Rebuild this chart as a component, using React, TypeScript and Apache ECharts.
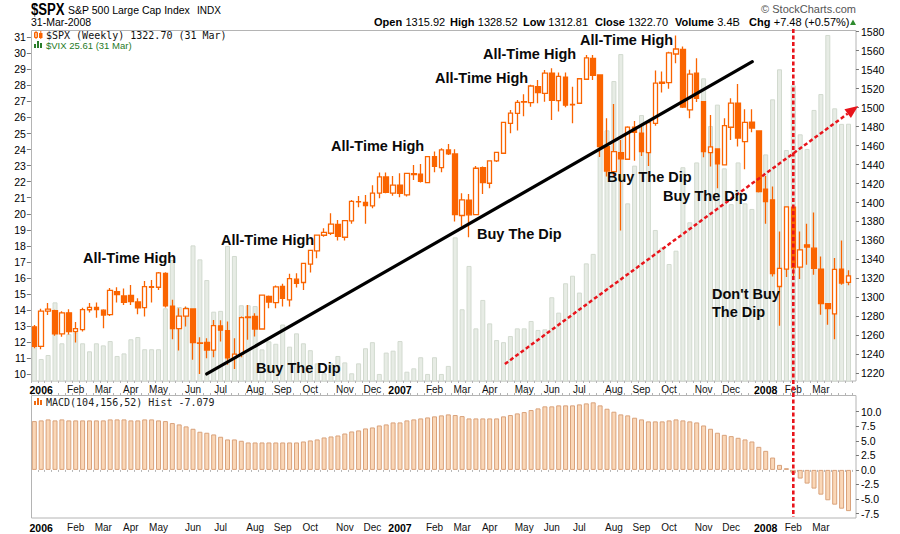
import React, { useEffect, useRef } from 'react';
import * as echarts from 'echarts';

// ---- data (weekly, first bar = week of 26-Dec-2005, last = week of 31-Mar-2008) ----
const spxOpen = [
  1269.0, 1248.3, 1285.5, 1286.0, 1261.5, 1283.7, 1264.0, 1266.0, 1287.0, 1289.4,
  1286.5, 1281.9, 1306.0, 1301.5, 1302.2, 1295.2, 1289.3, 1311.4, 1310.7, 1325.4,
  1290.7, 1267.0, 1280.2, 1287.9, 1252.0, 1252.5, 1244.5, 1270.0, 1265.0, 1236.2,
  1240.3, 1278.6, 1279.9, 1266.7, 1301.0, 1294.6, 1311.5, 1297.4, 1319.2, 1315.7,
  1335.0, 1349.0, 1365.5, 1367.6, 1377.0, 1363.4, 1380.6, 1400.6, 1400.0, 1396.5,
  1409.8, 1427.0, 1409.8, 1418.2, 1408.0, 1429.4, 1429.8, 1421.0, 1448.4, 1436.8,
  1455.4, 1451.2, 1386.3, 1402.4, 1387.3, 1436.8, 1420.3, 1443.8, 1451.9, 1483.5,
  1494.0, 1506.3, 1505.3, 1522.1, 1515.1, 1536.2, 1507.4, 1532.0, 1502.8, 1504.6,
  1529.9, 1552.0, 1534.4, 1459.0, 1432.6, 1452.6, 1445.6, 1479.3, 1473.0, 1452.6,
  1483.5, 1525.6, 1526.3, 1556.5, 1561.4, 1497.6, 1536.2, 1506.3, 1452.6, 1456.5,
  1439.6, 1479.3, 1504.6, 1464.2, 1484.6, 1475.4, 1414.0, 1402.8, 1311.5, 1329.8,
  1395.0, 1331.9, 1355.4, 1351.9, 1329.8, 1293.3, 1282.7, 1329.8, 1315.9,
];
const spxHigh = [
  1271.0, 1288.0, 1294.0, 1287.0, 1285.5, 1287.5, 1274.0, 1289.0, 1294.0, 1294.5,
  1287.5, 1310.0, 1310.7, 1309.5, 1313.0, 1299.0, 1317.3, 1318.4, 1326.8, 1326.4,
  1297.4, 1288.6, 1290.5, 1288.5, 1258.0, 1257.0, 1276.3, 1276.0, 1274.6, 1257.0,
  1280.0, 1292.0, 1283.4, 1302.5, 1302.0, 1312.5, 1314.3, 1324.8, 1325.5, 1336.5,
  1350.0, 1366.0, 1372.9, 1388.7, 1381.6, 1381.0, 1402.7, 1406.9, 1408.0, 1418.2,
  1431.5, 1431.5, 1428.0, 1430.8, 1431.0, 1439.6, 1440.7, 1449.0, 1453.7, 1457.2,
  1461.7, 1456.1, 1409.8, 1409.1, 1438.6, 1437.9, 1444.2, 1453.3, 1485.0, 1497.5,
  1508.0, 1514.0, 1524.0, 1529.2, 1539.7, 1541.4, 1536.9, 1536.9, 1522.0, 1530.9,
  1555.5, 1555.5, 1534.5, 1488.8, 1503.9, 1466.0, 1480.3, 1486.0, 1481.5, 1485.0,
  1539.0, 1538.0, 1559.0, 1576.1, 1564.5, 1539.9, 1552.0, 1506.5, 1492.3, 1456.8,
  1488.8, 1509.8, 1525.0, 1498.3, 1498.3, 1476.0, 1428.0, 1416.8, 1369.4, 1396.0,
  1396.0, 1369.4, 1377.5, 1389.5, 1343.0, 1294.0, 1341.4, 1360.0, 1328.5,
];
const spxLow = [
  1246.4, 1245.4, 1281.5, 1259.5, 1258.6, 1261.0, 1252.4, 1264.0, 1284.0, 1278.5,
  1267.5, 1280.5, 1294.5, 1292.0, 1292.0, 1282.3, 1279.8, 1294.5, 1307.9, 1289.3,
  1255.9, 1244.0, 1269.3, 1234.2, 1219.3, 1236.0, 1237.0, 1253.6, 1229.0, 1224.5,
  1237.0, 1255.3, 1258.9, 1265.8, 1288.6, 1288.6, 1290.4, 1290.4, 1310.4, 1307.9,
  1326.2, 1341.3, 1364.0, 1365.8, 1359.9, 1359.9, 1377.5, 1395.0, 1377.5, 1394.0,
  1404.5, 1409.8, 1407.0, 1405.6, 1406.3, 1423.8, 1421.0, 1420.3, 1431.9, 1431.9,
  1450.2, 1380.0, 1374.7, 1363.5, 1387.0, 1409.1, 1415.0, 1442.8, 1451.9, 1473.0,
  1475.8, 1491.0, 1501.0, 1504.6, 1506.3, 1487.0, 1495.8, 1500.4, 1483.5, 1503.9,
  1529.2, 1529.2, 1448.0, 1427.4, 1427.4, 1370.6, 1445.0, 1444.0, 1449.0, 1438.6,
  1481.0, 1516.0, 1520.0, 1546.7, 1499.5, 1488.8, 1506.0, 1447.7, 1437.9, 1415.0,
  1439.6, 1465.9, 1459.0, 1435.0, 1474.0, 1410.5, 1377.5, 1322.0, 1270.0, 1321.4,
  1322.0, 1319.3, 1334.3, 1323.8, 1281.7, 1271.2, 1256.0, 1313.3, 1312.8,
];
const spxClose = [
  1248.3, 1285.5, 1287.6, 1261.5, 1283.7, 1264.0, 1267.0, 1287.2, 1289.4, 1287.2,
  1281.4, 1307.3, 1303.0, 1294.8, 1295.5, 1289.1, 1311.3, 1310.6, 1325.8, 1291.2,
  1267.0, 1280.2, 1288.2, 1252.3, 1251.5, 1244.5, 1270.2, 1265.5, 1236.2, 1240.3,
  1278.6, 1279.4, 1266.7, 1302.3, 1295.1, 1311.0, 1298.9, 1319.7, 1314.8, 1335.9,
  1349.6, 1365.6, 1368.6, 1377.3, 1364.3, 1380.9, 1401.2, 1401.0, 1396.7, 1409.8,
  1427.1, 1410.8, 1418.3, 1409.7, 1430.7, 1430.5, 1422.2, 1448.4, 1438.1, 1455.5,
  1451.2, 1387.2, 1402.8, 1387.0, 1436.1, 1420.9, 1443.8, 1452.9, 1484.4, 1494.1,
  1505.6, 1505.9, 1522.8, 1515.7, 1536.3, 1507.7, 1532.9, 1502.6, 1503.4, 1530.4,
  1552.5, 1534.1, 1459.0, 1433.1, 1453.6, 1445.9, 1479.4, 1474.0, 1453.6, 1484.3,
  1525.8, 1526.8, 1557.6, 1561.8, 1500.6, 1535.3, 1509.7, 1453.7, 1458.7, 1440.7,
  1481.1, 1504.7, 1468.0, 1484.5, 1478.5, 1411.6, 1401.0, 1325.2, 1330.6, 1395.4,
  1331.3, 1350.0, 1353.1, 1330.6, 1293.4, 1288.1, 1329.5, 1315.2, 1322.7,
];
const vixClose = [
  12.0, 10.95, 11.2, 14.48, 11.93, 12.5, 12.6, 11.93, 11.43, 11.93,
  11.8, 12.07, 11.14, 11.3, 12.18, 12.32, 11.56, 11.56, 11.56, 14.11,
  17.12, 14.19, 14.19, 18.03, 17.16, 15.87, 13.9, 13.95, 17.99, 17.37,
  14.3, 14.3, 14.25, 11.55, 12.05, 11.9, 13.1, 11.72, 12.55, 11.93,
  11.5, 10.68, 10.06, 10.68, 11.14, 10.74, 10.06, 10.68, 11.62, 12.0,
  10.02, 11.35, 11.47, 12.07, 10.16, 10.37, 11.06, 10.02, 11.06, 10.02,
  10.52, 18.53, 14.05, 16.75, 12.86, 14.63, 13.17, 12.13, 12.0, 12.38,
  12.86, 12.86, 13.32, 12.76, 12.8, 14.8, 13.84, 15.67, 16.14, 15.09,
  16.91, 17.5, 25.1, 25.2, 28.27, 29.95, 20.65, 23.0, 26.15, 24.85,
  18.99, 17.9, 16.87, 17.7, 22.9, 19.47, 23.2, 28.44, 25.47, 26.8,
  22.83, 20.6, 23.2, 20.65, 20.3, 23.66, 23.7, 27.13, 29.0, 23.97,
  28.0, 24.95, 24.04, 26.47, 27.46, 31.14, 26.57, 25.6, 25.61,
];
const macdHist = [
  8.38, 8.5, 8.67, 8.5, 8.67, 8.5, 8.5, 8.5, 8.5, 8.5,
  8.5, 8.67, 8.67, 8.67, 8.5, 8.5, 8.67, 8.67, 8.5, 8.38,
  8.04, 7.81, 7.47, 7.06, 6.55, 6.38, 6.09, 5.69, 5.23, 5.23,
  5.0, 4.71, 4.71, 4.71, 4.71, 4.71, 4.71, 4.71, 4.71, 4.88,
  5.06, 5.23, 5.57, 5.74, 5.91, 6.25, 6.6, 6.78, 7.12, 7.29,
  7.63, 7.81, 8.15, 8.15, 8.5, 8.67, 8.84, 9.01, 9.19, 9.36,
  9.53, 9.42, 9.24, 8.84, 8.84, 8.84, 8.84, 8.84, 9.19, 9.42,
  9.7, 9.93, 10.28, 10.56, 10.91, 10.91, 11.08, 11.08, 11.08, 11.25,
  11.42, 11.6, 11.08, 10.5, 9.99, 9.53, 9.36, 8.96, 8.67, 8.33,
  8.33, 8.33, 8.5, 8.67, 8.5, 8.33, 8.15, 7.63, 7.06, 6.38,
  6.02, 5.8, 5.51, 5.23, 4.88, 3.96, 3.27, 2.12, 0.86, 0.29,
  -0.63, -1.49, -2.35, -3.21, -4.25, -5.22, -5.97, -6.66, -7.079,
];
const vixTicks = [10, 11, 12, 13, 14, 15, 16, 17, 18, 19, 20, 21, 22, 23, 24, 25, 26, 27, 28, 29, 30, 31];
const priceTicks = [1220, 1240, 1260, 1280, 1300, 1320, 1340, 1360, 1380, 1400, 1420, 1440, 1460, 1480, 1500, 1520, 1540, 1560, 1580];
const macdTicks = [-7.5, -5, -2.5, 0, 2.5, 5, 7.5, 10];
const monthTickIndex = [1, 6, 10, 14, 18, 23, 27, 32, 36, 40, 45, 49, 53, 58, 62, 66, 71, 75, 79, 84, 88, 92, 97, 101, 106, 110, 114];
const monthTickLabel = ['2006', 'Feb', 'Mar', 'Apr', 'May', 'Jun', 'Jul', 'Aug', 'Sep', 'Oct', 'Nov', 'Dec',
  '2007', 'Feb', 'Mar', 'Apr', 'May', 'Jun', 'Jul', 'Aug', 'Sep', 'Oct', 'Nov', 'Dec', '2008', 'Feb', 'Mar'];

// annotation anchors in data space: [week index, price]
const trendUp = [[24.99, 1219.3], [104.06, 1548.4]];
const trendDashed = [[68.2, 1229.8], [119.4, 1501.7]];
const markerWeekIndex = 110;

const FIRST_MONDAY = Date.UTC(2005, 11, 26);
const weeks = spxClose.map((_, i) => new Date(FIRST_MONDAY + i * 7 * 86400000).toISOString().slice(0, 10));

const SANS = "'Liberation Sans', Arial, sans-serif";
const MONO = "'DejaVu Sans Mono', monospace";
const ORANGE = '#fa6400';
const RED = '#e8141b';
const BOX = '#b4b4b4';

const labelAt = new Map<number, string>();
monthTickIndex.forEach((ix, k) => labelAt.set(ix, monthTickLabel[k]));

function xAxisLabel(margin: number) {
  return {
    interval: (idx: number) => labelAt.has(idx),
    formatter: (_v: string, idx: number) => {
      const l = labelAt.get(idx) || '';
      return /^\d{4}$/.test(l) ? `{y|${l}}` : l;
    },
    margin,
    fontSize: 10,
    fontFamily: SANS,
    color: '#111',
    rich: { y: { fontWeight: 'bold', fontSize: 10.5, fontFamily: SANS, color: '#000' } },
  };
}

function buildOption(): any {
  const gridLeft = 30.85;
  const gridWidth = 821.1;
  return {
    animation: false,
    backgroundColor: '#ffffff',
    grid: [
      { left: gridLeft, top: 30, width: gridWidth, height: 351 },
      { left: gridLeft, top: 395, width: gridWidth, height: 123 },
    ],
    xAxis: [
      {
        type: 'category', gridIndex: 0, data: weeks, boundaryGap: true,
        axisLine: { show: false },
        axisTick: { show: true, interval: 0, length: 2, lineStyle: { color: BOX } },
        axisLabel: xAxisLabel(3),
        splitLine: { show: false },
      },
      {
        type: 'category', gridIndex: 1, data: weeks, boundaryGap: true,
        axisLine: { show: false },
        axisTick: { show: true, interval: 0, length: 2, lineStyle: { color: BOX } },
        axisLabel: xAxisLabel(4),
        splitLine: { show: false },
      },
      {
        type: 'category', gridIndex: 1, data: weeks, boundaryGap: true, position: 'top',
        axisLine: { show: false },
        axisTick: { show: true, interval: 0, length: 2, lineStyle: { color: BOX } },
        axisLabel: { show: false },
        splitLine: { show: false },
      },
    ],
    yAxis: [
      {
        type: 'value', gridIndex: 0, position: 'left', min: 9.58, max: 31.45,
        splitLine: { show: false }, axisLine: { show: false },
        axisTick: { show: true, customValues: vixTicks, length: 4, lineStyle: { color: '#777' } },
        axisLabel: { customValues: vixTicks, margin: 5, fontSize: 10.5, fontFamily: SANS, color: '#000' },
      },
      {
        type: 'value', gridIndex: 0, position: 'right', offset: 4, min: 1211.9, max: 1581.8,
        splitLine: { show: false }, axisLine: { show: false },
        axisTick: { show: true, customValues: priceTicks, length: 3, lineStyle: { color: '#777' } },
        axisLabel: {
          customValues: priceTicks, margin: 5, fontSize: 10.5, fontFamily: SANS, color: '#000',
          formatter: (v: number) => String(Math.round(v)),
        },
      },
      {
        type: 'value', gridIndex: 1, position: 'right', offset: 4, min: -8.26, max: 12.86,
        splitLine: { show: false }, axisLine: { show: false },
        axisTick: { show: true, customValues: macdTicks, length: 3, lineStyle: { color: '#777' } },
        axisLabel: {
          customValues: macdTicks, margin: 5, fontSize: 10.5, fontFamily: SANS, color: '#000',
          formatter: (v: number) => v.toFixed(1),
        },
      },
    ],
    series: [
      {
        name: 'VIX', type: 'bar', xAxisIndex: 0, yAxisIndex: 0, data: vixClose,
        barWidth: 5, z: 1, silent: true,
        itemStyle: { color: '#e7ece5', borderColor: '#d2dacf', borderWidth: 1 },
      },
      {
        name: 'SPX', type: 'candlestick', xAxisIndex: 0, yAxisIndex: 1, z: 3, silent: true,
        barWidth: 5,
        data: spxOpen.map((o, i) => [o, spxClose[i], spxLow[i], spxHigh[i]]),
        itemStyle: { color: '#ffffff', color0: ORANGE, borderColor: ORANGE, borderColor0: ORANGE, borderWidth: 1.3 },
      },
      {
        name: 'MACD Hist', type: 'bar', xAxisIndex: 1, yAxisIndex: 2, data: macdHist,
        barWidth: 5, silent: true,
        itemStyle: { color: '#fad7b7', borderColor: '#d9a27b', borderWidth: 1 },
      },
    ],
  };
}

function boldText(id: string, text: string, x: number, y: number): any {
  return {
    id, type: 'text', x, y, z: 60, silent: true,
    style: { text, fill: '#0a0a0a', font: `bold 14.5px ${SANS}`, textAlign: 'left', textVerticalAlign: 'middle' },
  };
}

function hdrPair(id: string, label: string, value: string, x: number): any {
  return {
    id, type: 'text', x, y: 22, z: 60, silent: true,
    style: {
      text: `{b|${label}} {n|${value}}`, textAlign: 'left', textVerticalAlign: 'middle',
      rich: {
        b: { font: `bold 11px ${SANS}`, fill: '#000' },
        n: { font: `11px ${SANS}`, fill: '#000' },
      },
    },
  };
}

export default function App() {
  const ref = useRef<HTMLDivElement>(null);
  useEffect(() => {
    if (!ref.current) return;
    const chart = echarts.init(ref.current, null, { renderer: 'svg' });
    chart.setOption(buildOption());

    const n = weeks.length;
    const x0 = chart.convertToPixel({ xAxisIndex: 0 }, weeks[0]) as number;
    const x1 = chart.convertToPixel({ xAxisIndex: 0 }, weeks[n - 1]) as number;
    const px = (i: number) => x0 + ((x1 - x0) * i) / (n - 1);
    const py = (p: number) => chart.convertToPixel({ yAxisIndex: 1 }, p) as number;
    const pt = (d: number[]) => [px(d[0]), py(d[1])];

    const b0 = pt(trendUp[0]);
    const b1 = pt(trendUp[1]);
    const r0 = pt(trendDashed[0]);
    const tip = pt(trendDashed[1]);
    const dx = tip[0] - r0[0];
    const dy = tip[1] - r0[1];
    const len = Math.hypot(dx, dy);
    const ux = dx / len;
    const uy = dy / len;
    const headLen = 13;
    const headHalf = 5.5;
    const base = [tip[0] - ux * headLen, tip[1] - uy * headLen];
    const vx = px(markerWeekIndex);

    const graphic: any[] = [
      // panel boxes
      { id: 'box1', type: 'rect', z: 0, silent: true, shape: { x: 31.5, y: 30.5, width: 824.5, height: 350.5 }, style: { fill: 'none', stroke: BOX, lineWidth: 1 } },
      { id: 'box2', type: 'rect', z: 0, silent: true, shape: { x: 31.5, y: 395.5, width: 824.5, height: 122.5 }, style: { fill: 'none', stroke: BOX, lineWidth: 1 } },
      // trend lines
      { id: 'trend', type: 'line', z: 50, silent: true, shape: { x1: b0[0], y1: b0[1], x2: b1[0], y2: b1[1] }, style: { stroke: '#000', lineWidth: 3.2, lineCap: 'round' } },
      { id: 'dash', type: 'line', z: 50, silent: true, shape: { x1: r0[0], y1: r0[1], x2: base[0], y2: base[1] }, style: { stroke: RED, lineWidth: 2.5, lineDash: [4, 2.5] } },
      {
        id: 'arrow', type: 'polygon', z: 50, silent: true,
        shape: { points: [tip, [base[0] - uy * headHalf, base[1] + ux * headHalf], [base[0] + uy * headHalf, base[1] - ux * headHalf]] },
        style: { fill: RED },
      },
      { id: 'vline', type: 'line', z: 100, silent: true, shape: { x1: vx, y1: 29, x2: vx, y2: 517 }, style: { stroke: RED, lineWidth: 2.6, lineDash: [4, 2.5] } },
      // annotations
      boldText('a1', 'All-Time High', 83, 258),
      boldText('a2', 'All-Time High', 221, 240),
      boldText('a3', 'All-Time High', 331, 146),
      boldText('a4', 'All-Time High', 435, 78),
      boldText('a5', 'All-Time High', 483, 54),
      boldText('a6', 'All-Time High', 580, 40),
      boldText('d1', 'Buy The Dip', 256, 368),
      boldText('d2', 'Buy The Dip', 477, 234),
      boldText('d3', 'Buy The Dip', 607, 177),
      boldText('d4', 'Buy The Dip', 663, 196),
      boldText('d5', "Don't Buy", 712, 294),
      boldText('d6', 'The Dip', 712, 312),
      // header
      { id: 'h1', type: 'text', x: 31, y: 10, scaleX: 0.82, z: 60, silent: true, style: { text: '$SPX', font: `bold 16px ${SANS}`, fill: '#000', textVerticalAlign: 'middle' } },
      { id: 'h2', type: 'text', x: 68, y: 10, z: 60, silent: true, style: { text: 'S&P 500 Large Cap Index', font: `10.5px ${SANS}`, fill: '#000', textVerticalAlign: 'middle' } },
      { id: 'h3', type: 'text', x: 197, y: 10, z: 60, silent: true, style: { text: 'INDX', font: `10px ${SANS}`, fill: '#000', textVerticalAlign: 'middle' } },
      { id: 'h4', type: 'text', x: 31, y: 22, z: 60, silent: true, style: { text: '31-Mar-2008', font: `10.5px ${SANS}`, fill: '#000', textVerticalAlign: 'middle' } },
      hdrPair('o', 'Open', '1315.92', 374),
      hdrPair('hh', 'High', '1328.52', 450),
      hdrPair('l', 'Low', '1312.81', 523),
      hdrPair('c', 'Close', '1322.70', 595),
      hdrPair('v', 'Volume', '3.4B', 675),
      hdrPair('g', 'Chg', '+7.48 (+0.57%)', 749),
      { id: 'up', type: 'polygon', z: 60, silent: true, shape: { points: [[850, 25], [856, 25], [853, 19.5]] }, style: { fill: '#2e8b2e' } },
      { id: 'sc', type: 'text', x: 856, y: 9, z: 60, silent: true, style: { text: '\u00a9 StockCharts.com', font: `11px ${SANS}`, fill: '#555', textAlign: 'right', textVerticalAlign: 'middle' } },
      // legends
      { id: 'ic1', type: 'rect', z: 60, silent: true, shape: { x: 34.5, y: 32.5, width: 3, height: 5 }, style: { fill: '#fff', stroke: ORANGE, lineWidth: 1 } },
      { id: 'ic2', type: 'rect', z: 60, silent: true, shape: { x: 39, y: 33, width: 3.5, height: 5 }, style: { fill: ORANGE } },
      { id: 'ic3', type: 'line', z: 60, silent: true, shape: { x1: 36, y1: 31, x2: 36, y2: 39 }, style: { stroke: ORANGE, lineWidth: 1 } },
      { id: 'ic4', type: 'line', z: 60, silent: true, shape: { x1: 40.8, y1: 31, x2: 40.8, y2: 39 }, style: { stroke: ORANGE, lineWidth: 1 } },
      { id: 'lg1', type: 'text', x: 46, y: 35, z: 60, silent: true, style: { text: '$SPX (Weekly) 1322.70 (31 Mar)', font: `10px ${MONO}`, fill: '#111', textVerticalAlign: 'middle' } },
      { id: 'iv1', type: 'rect', z: 60, silent: true, shape: { x: 34, y: 44, width: 2, height: 4 }, style: { fill: '#2a7d2a' } },
      { id: 'iv2', type: 'rect', z: 60, silent: true, shape: { x: 37, y: 41, width: 2, height: 7 }, style: { fill: '#2a7d2a' } },
      { id: 'iv3', type: 'rect', z: 60, silent: true, shape: { x: 40, y: 43, width: 2, height: 5 }, style: { fill: '#2a7d2a' } },
      { id: 'lg2', type: 'text', x: 46, y: 45, z: 60, silent: true, style: { text: '$VIX 25.61 (31 Mar)', font: `9.5px ${SANS}`, fill: '#1f7a1f', textVerticalAlign: 'middle' } },
      { id: 'im1', type: 'rect', z: 60, silent: true, shape: { x: 34, y: 401, width: 2, height: 4 }, style: { fill: '#f06a10' } },
      { id: 'im2', type: 'rect', z: 60, silent: true, shape: { x: 37, y: 398, width: 2, height: 7 }, style: { fill: '#f06a10' } },
      { id: 'im3', type: 'rect', z: 60, silent: true, shape: { x: 40, y: 400, width: 2, height: 5 }, style: { fill: '#f06a10' } },
      { id: 'lg3', type: 'text', x: 46, y: 402, z: 60, silent: true, style: { text: 'MACD(104,156,52) Hist -7.079', font: `10px ${MONO}`, fill: '#222', textVerticalAlign: 'middle' } },
    ];
    chart.setOption({ graphic });
    return () => chart.dispose();
  }, []);
  return <div ref={ref} style={{ position: 'absolute', left: 0, top: 0, width: 900, height: 534 }} />;
}
